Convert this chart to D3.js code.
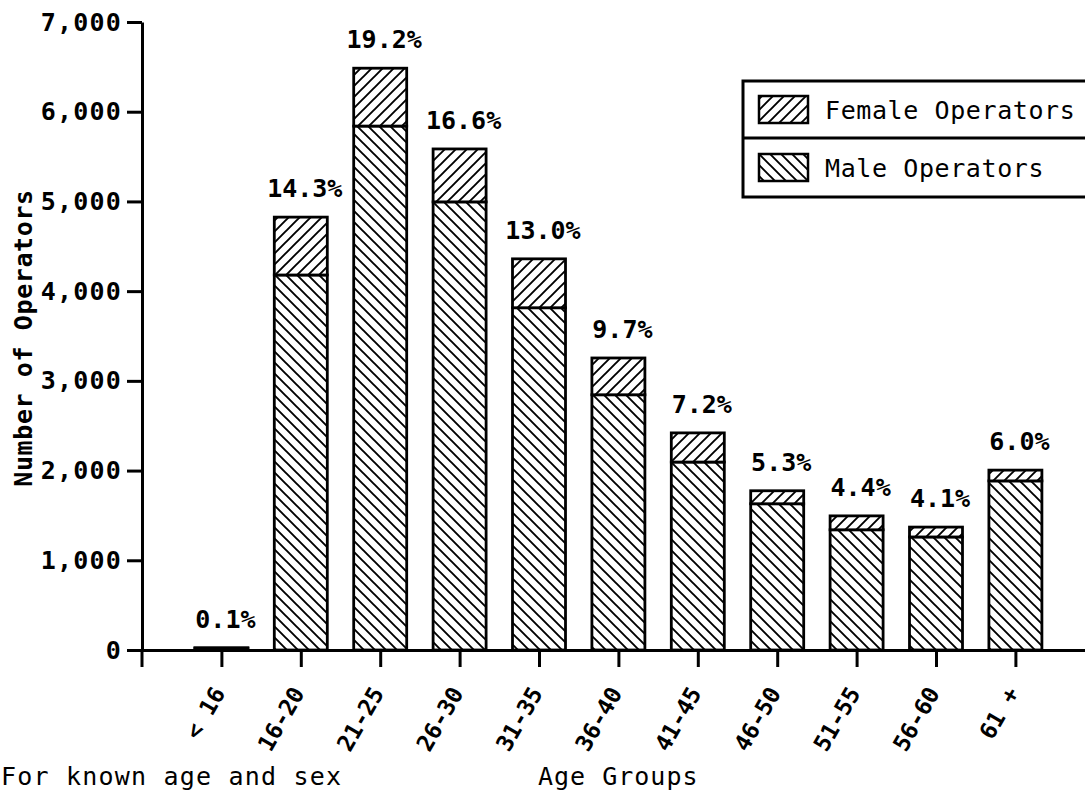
<!DOCTYPE html>
<html>
<head>
<meta charset="utf-8">
<script src="https://cdn.jsdelivr.net/npm/d3@7"></script>
<style>
  html, body { margin: 0; padding: 0; background: #fff; }
  svg { display: block; }
  text { font-family: "DejaVu Sans Mono", monospace; fill: #000; }
</style>
</head>
<body>
<svg id="chart" width="1085" height="799"></svg>
<script>
// ---- data ----
const categories = ["< 16", "16-20", "21-25", "26-30", "31-35", "36-40", "41-45", "46-50", "51-55", "56-60", "61 +"];
const maleValues   = [20, 4180, 5840, 4995, 3815, 2845, 2095, 1630, 1340, 1260, 1885];
const femaleValues = [5, 645, 645, 590, 545, 410, 325, 145, 155, 110, 120];
const pctLabels = ["0.1%", "14.3%", "19.2%", "16.6%", "13.0%", "9.7%", "7.2%", "5.3%", "4.4%", "4.1%", "6.0%"];
const yTicks = [0, 1000, 2000, 3000, 4000, 5000, 6000, 7000];
const seriesNames = ["Female Operators", "Male Operators"];

// ---- layout ----
const svg = d3.select("#chart");
const x0 = 142, step = 79.4;
const x = d3.scaleLinear().domain([0, 12]).range([x0, x0 + 12 * step]);
const y = d3.scaleLinear().domain([0, 7000]).range([650, 22]);
const barW = 53;

// patterns
const defs = svg.append("defs");
function hatch(id, d) {
  const p = defs.append("pattern").attr("id", id)
    .attr("patternUnits", "userSpaceOnUse").attr("width", 11).attr("height", 11);
  p.append("rect").attr("width", 11).attr("height", 11).attr("fill", "#fff");
  p.append("path").attr("d", d).attr("stroke", "#000").attr("stroke-width", 1.9).attr("fill", "none");
}
hatch("fem", "M0,11 L11,0 M-2.75,2.75 L2.75,-2.75 M8.25,13.75 L13.75,8.25");
hatch("male", "M0,0 L11,11 M-2.75,8.25 L2.75,13.75 M8.25,-2.75 L13.75,2.75");

// bars
const data = categories.map((c, i) => ({ c, i, m: maleValues[i], f: femaleValues[i], p: pctLabels[i] }));
const g = svg.append("g");
g.selectAll("rect.male").data(data).join("rect")
  .attr("x", d => x(d.i + 1) - barW / 2).attr("width", barW)
  .attr("y", d => y(d.m)).attr("height", d => y(0) - y(d.m))
  .attr("fill", "url(#male)").attr("stroke", "#000").attr("stroke-width", 2.8);
g.selectAll("rect.fem").data(data).join("rect")
  .attr("x", d => x(d.i + 1) - barW / 2).attr("width", barW)
  .attr("y", d => y(d.m + d.f)).attr("height", d => y(d.m) - y(d.m + d.f))
  .attr("fill", "url(#fem)").attr("stroke", "#000").attr("stroke-width", 2.8);

// percent labels
g.selectAll("text.pct").data(data).join("text")
  .attr("x", d => x(d.i + 1) + 4).attr("y", d => y(d.m + d.f) - 20)
  .attr("text-anchor", "middle").attr("font-size", 25).attr("font-weight", "bold")
  .text(d => d.p);

// y axis
const yAxis = svg.append("g").attr("transform", `translate(${x0},0)`)
  .call(d3.axisLeft(y).tickValues(yTicks).tickFormat(d3.format(",")).tickSize(15).tickSizeOuter(0).tickPadding(5));
yAxis.select(".domain").attr("stroke-width", 3);
yAxis.selectAll(".tick line").attr("stroke-width", 3);
yAxis.selectAll(".tick text").attr("font-size", 25).attr("font-weight", "bold")
  .attr("font-family", "DejaVu Sans Mono").attr("fill", "#000").style("letter-spacing", "1.2px");
// y axis extension below the baseline
svg.append("line").attr("x1", x0).attr("x2", x0).attr("y1", y(0)).attr("y2", y(0) + 17)
  .attr("stroke", "#000").attr("stroke-width", 3);

// x axis
const xAxis = svg.append("g").attr("transform", `translate(0,${y(0)})`)
  .call(d3.axisBottom(x).tickValues(d3.range(1, 12)).tickFormat(i => categories[i - 1]).tickSize(17).tickSizeOuter(0));
xAxis.select(".domain").attr("stroke-width", 3);
xAxis.selectAll(".tick line").attr("stroke-width", 3);
xAxis.selectAll(".tick text")
  .attr("font-size", 23).attr("font-weight", "bold").attr("font-family", "DejaVu Sans Mono").attr("fill", "#000")
  .attr("text-anchor", "end").attr("dy", null)
  .attr("transform", "translate(4,43) rotate(-60)").attr("x", 0).attr("y", 0);

// axis titles
svg.append("text").attr("transform", "translate(32,338) rotate(-90)")
  .attr("text-anchor", "middle").attr("font-size", 25).attr("font-weight", "bold")
  .style("letter-spacing", "0.6px")
  .text("Number of Operators");
svg.append("text").attr("x", 538).attr("y", 785).style("letter-spacing", "1px")
  .attr("font-size", 25).text("Age Groups");
svg.append("text").attr("x", 1).attr("y", 785).style("letter-spacing", "1.2px")
  .attr("font-size", 25).text("For known age and sex");

// legend
const leg = svg.append("g");
leg.append("rect").attr("x", 743).attr("y", 81).attr("width", 380).attr("height", 116)
  .attr("fill", "#fff").attr("stroke", "#000").attr("stroke-width", 3);
leg.append("line").attr("x1", 743).attr("x2", 1123).attr("y1", 138).attr("y2", 138)
  .attr("stroke", "#000").attr("stroke-width", 3);
const legItems = [{ n: seriesNames[0], fill: "url(#fem)" }, { n: seriesNames[1], fill: "url(#male)" }];
legItems.forEach((it, k) => {
  const top = 96 + k * 58;
  leg.append("rect").attr("x", 759).attr("y", top).attr("width", 49).attr("height", 27)
    .attr("fill", it.fill).attr("stroke", "#000").attr("stroke-width", 2.5);
  leg.append("text").attr("x", 825).attr("y", top + 23).attr("font-size", 25)
    .style("letter-spacing", "0.6px").text(it.n);
});
</script>
</body>
</html>
